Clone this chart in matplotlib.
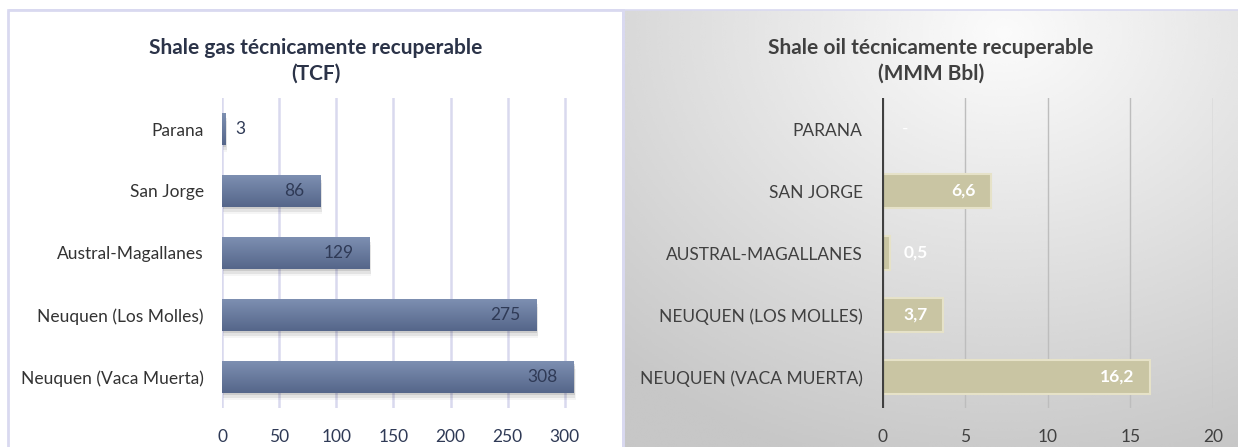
import matplotlib.pyplot as plt
import numpy as np
from matplotlib.patches import Rectangle

plt.rcParams['font.family'] = ['Lato', 'DejaVu Sans']

# shale gas (TCF) by basin
gas_basins = ['Neuquen (Vaca Muerta)', 'Neuquen (Los Molles)', 'Austral-Magallanes',
              'San Jorge', 'Parana']
gas_tcf = [308, 275, 129, 86, 3]
gas_labels = ['308', '275', '129', '86', '3']

# shale oil (MMM Bbl) by basin
oil_basins = ['NEUQUEN (VACA MUERTA)', 'NEUQUEN (LOS MOLLES)', 'AUSTRAL-MAGALLANES',
              'SAN JORGE', 'PARANA']
oil_bbl = [16.2, 3.7, 0.5, 6.6, 0.0]
oil_labels = ['16,2', '3,7', '0,5', '6,6', '-']

W, H = 1238, 447
FS = 12.5
fig = plt.figure(figsize=(W / 100, H / 100), dpi=100)
fig.patch.set_facecolor('white')

# panel backgrounds
bg = fig.add_axes([0, 0, 1, 1], zorder=-10)
bg.set_xlim(0, W)
bg.set_ylim(H, 0)
bg.axis('off')

# grey radial fill behind the oil chart
px0, px1, py0, py1 = 623, W, 10, H
xx, yy = np.meshgrid(np.linspace(0, 1, 300), np.linspace(0, 1, 200))
r = np.sqrt(((xx - 0.62) / 1.0) ** 2 + ((yy - 0.05) / 1.1) ** 2)
shade = np.clip(0.985 - 0.22 * r, 0.78, 1.0)
bg.imshow(shade, cmap='gray', vmin=0, vmax=1, extent=[px0, px1, py1, py0],
          aspect='auto', interpolation='bicubic')
bg.add_patch(Rectangle((8, 10), 615, 450, fill=False, ec='#d9d9f0', lw=2))
bg.plot([623, 623], [10, H], color='#d9d9f0', lw=2)
bg.plot([8, W], [10, 10], color='#d9d9f0', lw=1.2)
bg.set_aspect('auto')


def gradient_bars(ax, bars, top, bottom):
    grad = np.linspace(0, 1, 64).reshape(-1, 1)
    cmap = plt.matplotlib.colors.LinearSegmentedColormap.from_list('g', [top, bottom])
    for b in bars:
        x, y = b.get_x(), b.get_y()
        w, h = b.get_width(), b.get_height()
        # soft drop shadow
        for k, a in enumerate([0.10, 0.07, 0.04]):
            ax.add_patch(Rectangle((x + 0.6 * (k + 1), y - 0.04 * (k + 1)), w, h,
                                   fc='black', ec='none', alpha=a, zorder=1.5))
        im = ax.imshow(grad, cmap=cmap, extent=[x, x + w, y, y + h], aspect='auto',
                       zorder=2, interpolation='bicubic')
        im.set_clip_path(b)
        b.set_facecolor('none')


# shale gas chart
ax1 = fig.add_axes([222 / W, 39 / H, 356.5 / W, 310 / H])
ypos = np.arange(len(gas_basins))
bars1 = ax1.barh(ypos, gas_tcf, height=0.51, color='#6c7c9e', zorder=2)
ax1.set_xlim(0, 312)
ax1.set_ylim(-0.5, 4.5)
gradient_bars(ax1, bars1, '#7d8fb1', '#55668a')
ax1.set_xticks(range(0, 301, 50))
ax1.set_yticks(ypos)
ax1.set_yticklabels(gas_basins, fontsize=FS, color='#333333')
for x in range(0, 301, 50):
    ax1.axvline(x, color='#d9d9ee', lw=1.8, zorder=0)
for y, v, lab in zip(ypos, gas_tcf, gas_labels):
    if v > 40:
        ax1.text(v - 14, y, lab, ha='right', va='center', fontsize=FS,
                 color='#2f3a56', zorder=5)
    else:
        ax1.text(v + 9, y, lab, ha='left', va='center', fontsize=FS,
                 color='#2f3a56', zorder=5)
ax1.tick_params(axis='x', length=0, pad=15, labelsize=FS, labelcolor='#2f3a56')
ax1.tick_params(axis='y', length=0, pad=13)
for s in ax1.spines.values():
    s.set_visible(False)
ax1.patch.set_alpha(0)
ax1.set_title('Shale gas técnicamente recuperable\n(TCF)', fontsize=15,
              fontweight='bold', color='#2b3348', x=(316 - 222) / 356.5,
              y=1.0, pad=13, linespacing=1.4)

# shale oil chart
ax2 = fig.add_axes([882 / W, 39 / H, 331 / W, 310 / H])
bars2 = ax2.barh(ypos, oil_bbl, height=0.56, color='#c9c5a3', ec='#e6e2c8',
                 lw=1.5, zorder=2)
ax2.set_xlim(0, 20)
ax2.set_ylim(-0.5, 4.5)
ax2.set_xticks(range(0, 21, 5))
ax2.set_yticks(ypos)
ax2.set_yticklabels(oil_basins, fontsize=FS, color='#404040')
for x in range(5, 21, 5):
    ax2.axvline(x, color='#bdbdbd', lw=1.0, zorder=0)
ax2.axvline(0, color='#404040', lw=3, zorder=4)
for y, v, lab in zip(ypos, oil_bbl, oil_labels):
    if v > 2:
        ax2.text(v - 0.95, y, lab, ha='right', va='center', fontsize=FS,
                 fontweight='bold', color='white', zorder=5)
    elif v > 0:
        ax2.text(v + 0.8, y, lab, ha='left', va='center', fontsize=FS,
                 fontweight='bold', color='white', zorder=5)
    else:
        ax2.text(1.4, y, lab, ha='center', va='center', fontsize=FS,
                 color='white', zorder=5)
ax2.tick_params(axis='x', length=0, pad=15, labelsize=FS, labelcolor='#404040')
ax2.tick_params(axis='y', length=0, pad=14)
for s in ax2.spines.values():
    s.set_visible(False)
ax2.patch.set_alpha(0)
ax2.set_title('Shale oil técnicamente recuperable\n(MMM Bbl)', fontsize=15,
              fontweight='bold', color='#404040', x=(931 - 882) / 331,
              y=1.0, pad=13, linespacing=1.4)

fig.savefig('out.png', dpi=100)
